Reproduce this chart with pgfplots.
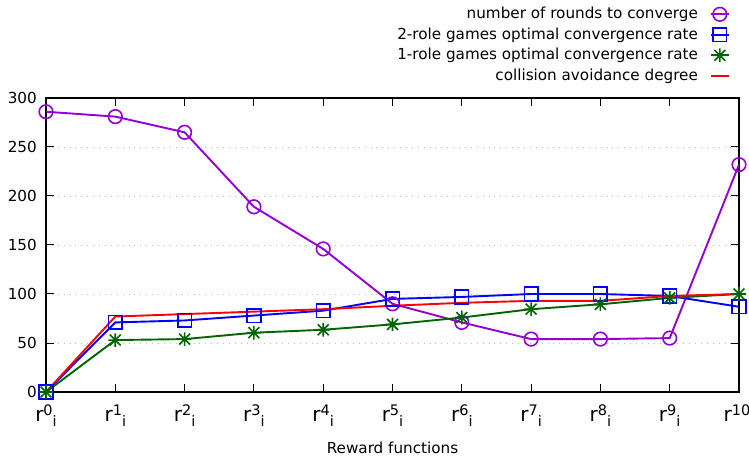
\documentclass[border=0pt]{standalone}
\usepackage{fontspec}
\setmainfont{DejaVu Sans}
\usepackage{pgfplots}
\pgfplotsset{compat=1.18}
\definecolor{cpurple}{HTML}{9400D3}
\definecolor{cgreen}{HTML}{006400}
\definecolor{cblue}{HTML}{0000FF}
\definecolor{cred}{HTML}{FF0000}
\pgfdeclareplotmark{gstar}{%
  \pgfpathmoveto{\pgfqpoint{-\pgfplotmarksize}{0pt}}\pgfpathlineto{\pgfqpoint{\pgfplotmarksize}{0pt}}%
  \pgfpathmoveto{\pgfqpoint{0pt}{-\pgfplotmarksize}}\pgfpathlineto{\pgfqpoint{0pt}{\pgfplotmarksize}}%
  \pgfpathmoveto{\pgfqpoint{-0.8\pgfplotmarksize}{-0.8\pgfplotmarksize}}\pgfpathlineto{\pgfqpoint{0.8\pgfplotmarksize}{0.8\pgfplotmarksize}}%
  \pgfpathmoveto{\pgfqpoint{-0.8\pgfplotmarksize}{0.8\pgfplotmarksize}}\pgfpathlineto{\pgfqpoint{0.8\pgfplotmarksize}{-0.8\pgfplotmarksize}}%
  \pgfusepathqstroke}
\newcommand{\sfs}{\fontsize{14.5bp}{16bp}\selectfont}
\newcommand{\rl}[1]{{\fontsize{20bp}{22bp}\selectfont r}\raisebox{6bp}{\sfs #1}\raisebox{-5bp}{\sfs i}}
\begin{document}
\begin{tikzpicture}[font=\fontsize{15.2bp}{18bp}\selectfont]
\begin{axis}[
  name=ax,
  scale only axis,
  width=693bp, height=294bp,
  xmin=0, xmax=10, ymin=0, ymax=300,
  xtick={0,1,2,3,4,5,6,7,8,9,10},
  xticklabels={\rl{0},\rl{1},\rl{2},\rl{3},\rl{4},\rl{5},\rl{6},\rl{7},\rl{8},\rl{9},\rl{10}},
  ytick={0,50,100,150,200,250,300},
  /pgf/number format/assume math mode=true,
  tick align=inside,
  major tick length=8.5bp,
  axis line style={line width=1.2bp},
  every tick/.style={black, line width=1bp},
  ymajorgrids,
  grid style={gray!55, line width=0.9bp, dash pattern=on 0.9bp off 5bp},
  tick label style={font=\fontsize{15.2bp}{18bp}\selectfont},
  xticklabel style={anchor=base, yshift=-29.7bp, inner sep=0pt},
  yticklabel style={anchor=east, xshift=-9bp, inner sep=0pt},
  xlabel={Reward functions},
  xlabel style={at={(axis description cs:0.5,0)}, anchor=base, yshift=-61bp, inner sep=0pt, font=\fontsize{15.2bp}{18bp}\selectfont},
  legend cell align=right,
  legend plot pos=right,
  legend image code/.code={\draw[mark repeat=2,mark phase=2,#1] plot coordinates {(0bp,0bp)(9bp,0bp)(18bp,0bp)};},
  legend style={at={(axis description cs:1,1)}, anchor=south east, xshift=-9bp, yshift=13bp,
    draw=none, fill=none, inner sep=0pt, row sep=2.5bp,
    /tikz/every odd column/.style={column sep=11bp},
    font=\fontsize{15.2bp}{18bp}\selectfont,
    nodes={inner sep=1bp, text height=12.5bp, text depth=3.5bp}},
  mark size=6.8bp,
]
\addplot[color=cpurple, line width=1.9bp, mark=o, mark options={line width=1.6bp}] coordinates {
(0,286) (1,281) (2,265) (3,189) (4,146) (5,90) (6,71) (7,54) (8,54) (9,55) (10,232)};
\addlegendentry{number of rounds to converge}
\addplot[color=cblue, line width=1.9bp, mark=square, mark options={line width=1.6bp}] coordinates {
(0,0) (1,71) (2,73) (3,78) (4,83) (5,95) (6,97) (7,100) (8,100) (9,98) (10,87)};
\addlegendentry{2-role games optimal convergence rate}
\addplot[color=cgreen, line width=1.9bp, mark=gstar, mark options={line width=1.6bp}] coordinates {
(0,0) (1,53) (2,54) (3,60.5) (4,63.5) (5,69) (6,76) (7,84.5) (8,89.5) (9,96) (10,100)};
\addlegendentry{1-role games optimal convergence rate}
\addplot[color=cred, line width=1.9bp] coordinates {
(0,0) (1,77) (2,79.5) (3,82) (4,84.5) (5,88) (6,91) (7,93) (8,93) (9,98) (10,100)};
\addlegendentry{collision avoidance degree}
\end{axis}
\pgfresetboundingbox
\path ([xshift=-46bp,yshift=-69bp]ax.south west) rectangle ([xshift=10bp,yshift=98bp]ax.north east);
\end{tikzpicture}
\end{document}
